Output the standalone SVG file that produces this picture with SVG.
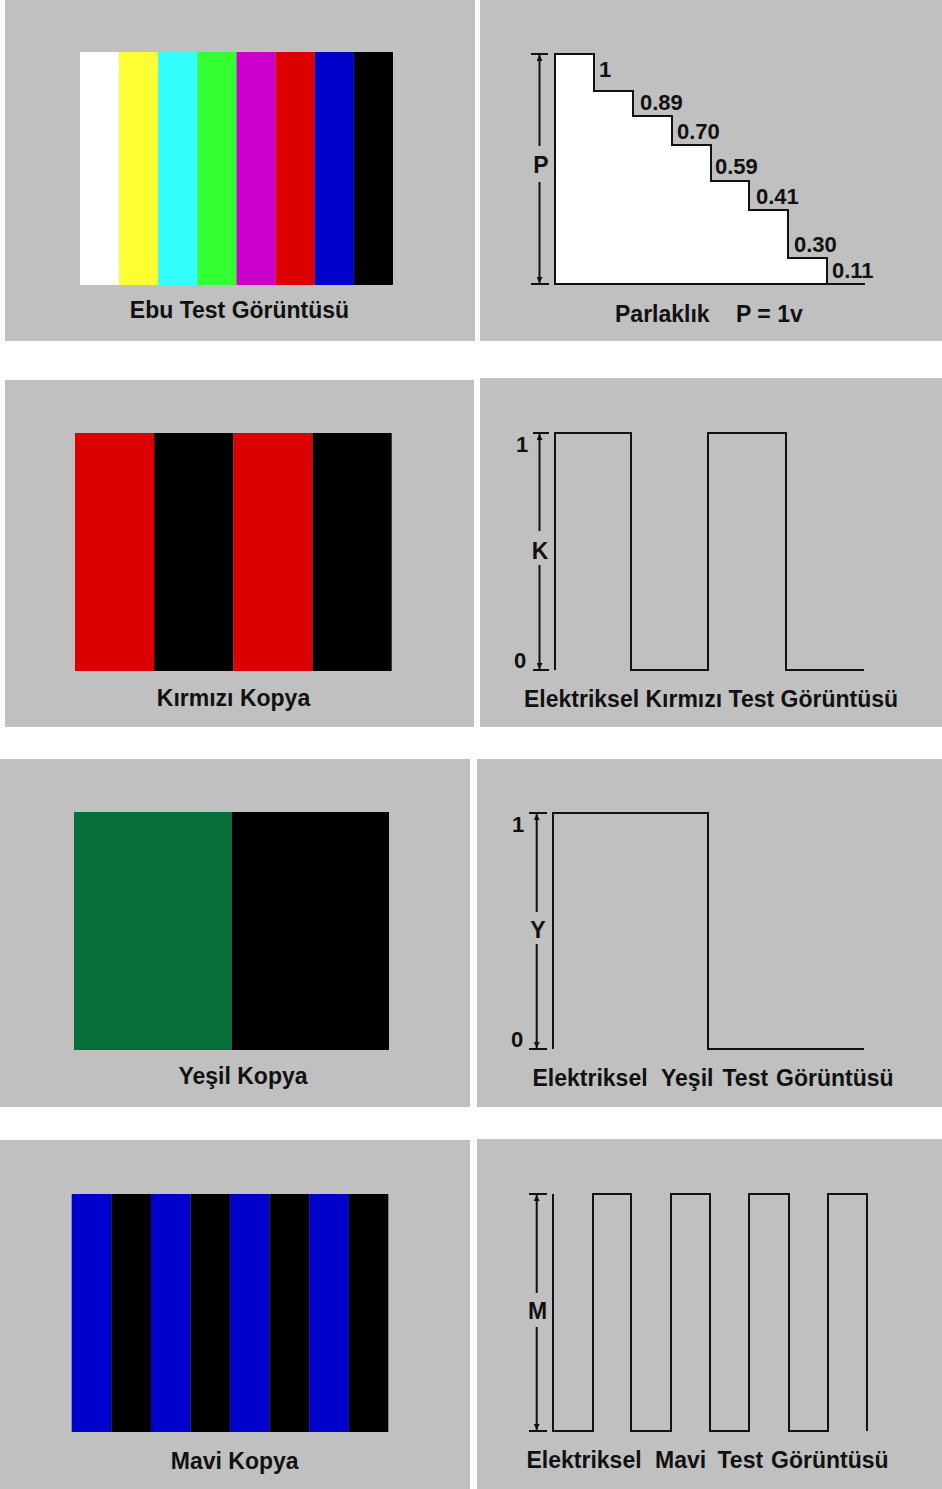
<svg xmlns="http://www.w3.org/2000/svg" width="942" height="1489" viewBox="0 0 942 1489">
<defs>
<style>
.bg{fill:#c0c0c0}
.t{font-family:"Liberation Sans",Arial,sans-serif;font-weight:bold;font-size:23px;fill:#111}
.n{font-family:"Liberation Sans",Arial,sans-serif;font-weight:bold;font-size:22px;fill:#111}
.m{text-anchor:middle}
.w{fill:none;stroke:#111;stroke-width:2}
.ax{fill:none;stroke:#111;stroke-width:2;marker-end:url(#ah)}
</style>
<marker id="ah" viewBox="0 0 6 6" refX="6" refY="3" markerWidth="6" markerHeight="6" markerUnits="userSpaceOnUse" orient="auto">
<path d="M0,0 L6,3 L0,6 Z" fill="#111"/>
</marker>
</defs>
<rect width="942" height="1489" fill="#ffffff"/>

<g id="ebu-test">
<rect class="bg" x="5" y="0" width="470" height="341"/>
<rect x="80" y="52" width="39.2" height="233" fill="#ffffff"/>
<rect x="119.1" y="52" width="39.2" height="233" fill="#ffff33"/>
<rect x="158.2" y="52" width="39.2" height="233" fill="#33ffff"/>
<rect x="197.4" y="52" width="39.2" height="233" fill="#33ff33"/>
<rect x="236.5" y="52" width="39.2" height="233" fill="#cc00cc"/>
<rect x="275.6" y="52" width="39.2" height="233" fill="#dd0000"/>
<rect x="314.7" y="52" width="39.2" height="233" fill="#0000cc"/>
<rect x="353.9" y="52" width="39.1" height="233" fill="#000000"/>
<text class="t m" x="239.5" y="318">Ebu Test Görüntüsü</text>
</g>

<g id="parlaklik">
<rect class="bg" x="480" y="0" width="462" height="341"/>
<path d="M555,54 H594 V91 H633 V116 H672 V145 H711 V181 H749 V210 H788 V258 H827 V284 H555 Z" fill="#ffffff" stroke="#111" stroke-width="2"/>
<path class="w" d="M827,284 H865 M531,54 H548 M531,284 H549"/>
<path class="ax" d="M539.5,146 V55"/>
<path class="ax" d="M539.5,182 V283"/>
<text class="t m" x="541" y="173">P</text>
<text class="n" x="599" y="77">1</text>
<text class="n" x="640" y="110">0.89</text>
<text class="n" x="677" y="139">0.70</text>
<text class="n" x="715" y="174">0.59</text>
<text class="n" x="756" y="204">0.41</text>
<text class="n" x="794" y="252">0.30</text>
<text class="n" x="832" y="278">0.11</text>
<text class="t" x="615" y="322">Parlaklık</text>
<text class="t" x="736" y="322">P = 1v</text>
</g>

<g id="kirmizi-kopya">
<rect class="bg" x="5" y="380" width="469" height="347"/>
<rect x="75" y="433" width="79.2" height="238" fill="#dd0000"/>
<rect x="154.2" y="433" width="79.2" height="238" fill="#000000"/>
<rect x="233.3" y="433" width="79.2" height="238" fill="#dd0000"/>
<rect x="312.5" y="433" width="79.2" height="238" fill="#000000"/>
<text class="t m" x="233.5" y="706">Kırmızı Kopya</text>
</g>

<g id="kirmizi-sinyal">
<rect class="bg" x="480" y="378" width="462" height="349"/>
<path class="w" d="M555,670 V433 H631 V670 H708 V433 H786 V670 H864"/>
<path class="w" d="M533,433 H549 M533,670 H549"/>
<path class="ax" d="M539.5,531 V434"/>
<path class="ax" d="M539.5,565 V669"/>
<text class="t m" x="540" y="559">K</text>
<text class="n" x="516" y="452">1</text>
<text class="n" x="514" y="668">0</text>
<text class="t" x="524" y="707">Elektriksel Kırmızı Test Görüntüsü</text>
</g>

<g id="yesil-kopya">
<rect class="bg" x="0" y="759" width="470" height="348"/>
<rect x="74" y="812" width="157.7" height="238" fill="#066e38"/>
<rect x="231.7" y="812" width="157.3" height="238" fill="#000000"/>
<text class="t m" x="243" y="1084">Yeşil Kopya</text>
</g>

<g id="yesil-sinyal">
<rect class="bg" x="477" y="759" width="465" height="348"/>
<path class="w" d="M553,1049 V813 H708 V1049 H864"/>
<path class="w" d="M529,813 H547 M529,1049 H547"/>
<path class="ax" d="M536.7,912 V814"/>
<path class="ax" d="M536.7,944 V1048"/>
<text class="t m" x="538" y="938">Y</text>
<text class="n" x="512" y="832">1</text>
<text class="n" x="511" y="1047">0</text>
<text class="t" y="1086"><tspan x="532.5">Elektriksel</tspan><tspan x="661">Yeşil</tspan><tspan x="722.5">Test</tspan><tspan x="776">Görüntüsü</tspan></text>
</g>

<g id="mavi-kopya">
<rect class="bg" x="0" y="1140" width="470" height="349"/>
<rect x="71.7" y="1194" width="39.7" height="238" fill="#0000cc"/>
<rect x="111.3" y="1194" width="39.7" height="238" fill="#000000"/>
<rect x="150.9" y="1194" width="39.7" height="238" fill="#0000cc"/>
<rect x="190.5" y="1194" width="39.7" height="238" fill="#000000"/>
<rect x="230.1" y="1194" width="39.7" height="238" fill="#0000cc"/>
<rect x="269.7" y="1194" width="39.7" height="238" fill="#000000"/>
<rect x="309.2" y="1194" width="39.7" height="238" fill="#0000cc"/>
<rect x="348.8" y="1194" width="39.5" height="238" fill="#000000"/>
<text class="t m" x="234.7" y="1469">Mavi Kopya</text>
</g>

<g id="mavi-sinyal">
<rect class="bg" x="477" y="1139" width="465" height="350"/>
<path class="w" d="M553,1194 V1431 H593 V1194 H631 V1431 H671 V1194 H710 V1431 H749 V1194 H789 V1431 H828 V1194 H867 V1431"/>
<path class="w" d="M529,1194 H547 M529,1431 H547"/>
<path class="ax" d="M536.7,1293 V1195"/>
<path class="ax" d="M536.7,1327 V1430"/>
<text class="t m" x="537.5" y="1319">M</text>
<text class="t" y="1468"><tspan x="526.5">Elektriksel</tspan><tspan x="655">Mavi</tspan><tspan x="717.5">Test</tspan><tspan x="771">Görüntüsü</tspan></text>
</g>

<g id="connectors"></g>
</svg>
